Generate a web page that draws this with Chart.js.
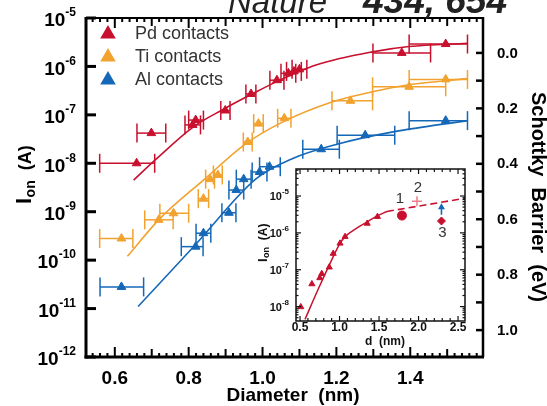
<!DOCTYPE html>
<html>
<head>
<meta charset="utf-8">
<script src="https://cdn.jsdelivr.net/npm/chart.js@4.4.1/dist/chart.umd.min.js"></script>
<style>
  html, body { margin: 0; padding: 0; background: #fff; }
  #wrap { position: relative; width: 547px; height: 406px; overflow: hidden; }
  #insetBox { position: absolute; left: 250px; top: 160px; width: 225px; height: 195px; }
</style>
</head>
<body>
<div id="wrap">
  <canvas id="mainChart" width="547" height="406"></canvas>
  <div id="insetBox"><canvas id="insetChart" width="225" height="195"></canvas></div>
</div>
<script>
const FONT = "'Liberation Sans', Arial, Helvetica, sans-serif";
Chart.defaults.font.family = FONT;
Chart.defaults.color = '#000';

const RED = '#c8102e', ORANGE = '#f2a22e', BLUE = '#1568b8', PINK = '#ee7f8c';

// ---- main panel: diameter (nm) vs on-current (A) ----
const pdD  = [0.659, 0.699, 0.811, 0.819, 0.899, 0.969, 1.039, 1.07, 1.085, 1.10, 1.377, 1.496];
const pdI  = [1.0e-8, 4.2e-8, 6.2e-8, 7.8e-8, 1.23e-7, 2.7e-7, 5.2e-7, 7.2e-7, 7.9e-7, 8.7e-7, 1.9e-6, 2.9e-6];
const pdLo = [0.559, 0.660, 0.790, 0.800, 0.887, 0.955, 1.020, 1.050, 1.065, 1.080, 1.299, 1.397];
const pdHi = [0.708, 0.738, 0.832, 0.840, 0.912, 0.982, 1.058, 1.090, 1.105, 1.120, 1.455, 1.555];

const tiD  = [0.618, 0.719, 0.759, 0.840, 0.858, 0.879, 0.960, 0.989, 1.059, 1.238, 1.397, 1.496];
const tiI  = [2.8e-10, 6.8e-10, 9.3e-10, 1.86e-9, 4.7e-9, 5.75e-9, 2.75e-8, 6.6e-8, 8.5e-8, 1.95e-7, 3.8e-7, 5.4e-7];
const tiLo = [0.559, 0.681, 0.722, 0.826, 0.846, 0.867, 0.948, 0.976, 1.041, 1.188, 1.298, 1.397];
const tiHi = [0.649, 0.758, 0.800, 0.854, 0.870, 0.891, 0.972, 1.002, 1.077, 1.298, 1.496, 1.555];

const alD  = [0.618, 0.819, 0.840, 0.909, 0.929, 0.949, 0.992, 1.019, 1.159, 1.278, 1.496];
const alI  = [2.8e-11, 1.9e-10, 3.6e-10, 9.5e-10, 2.8e-9, 4.7e-9, 6.6e-9, 8.5e-9, 1.95e-8, 3.8e-8, 7.6e-8];
const alLo = [0.560, 0.780, 0.820, 0.890, 0.909, 0.929, 0.972, 0.992, 1.109, 1.202, 1.397];
const alHi = [0.678, 0.839, 0.860, 0.928, 0.949, 0.969, 1.012, 1.048, 1.208, 1.358, 1.555];

// fitted curves
const pdFitD = [0.651, 0.711, 0.812, 0.893, 0.974, 1.037, 1.145, 1.298, 1.397, 1.555];
const pdFitI = [4.5e-9, 1.2e-8, 5.6e-8, 1.29e-7, 2.75e-7, 4.8e-7, 1.07e-6, 2.0e-6, 2.57e-6, 3.0e-6];
const tiFitD = [0.634, 0.722, 0.840, 0.956, 1.046, 1.190, 1.298, 1.397, 1.555];
const tiFitI = [1.2e-10, 7.2e-10, 4.5e-9, 2.57e-8, 6.6e-8, 1.86e-7, 3.0e-7, 4.2e-7, 5.6e-7];
const alFitD = [0.663, 0.822, 0.983, 1.082, 1.204, 1.357, 1.555];
const alFitI = [1.1e-11, 2.24e-10, 4.8e-9, 1.26e-8, 2.5e-8, 4.5e-8, 7.6e-8];

const legendLabels = ['Pd contacts', 'Ti contacts', 'Al contacts'];
const xTicks = [0.6, 0.8, 1.0, 1.2, 1.4];
const yDecades = [-5, -6, -7, -8, -9, -10, -11, -12];
const barrierTicks = [0.0, 0.2, 0.4, 0.6, 0.8, 1.0];

// ---- inset: d (nm) vs Ion (A) ----
const insetTriD = [0.51, 0.65, 0.75, 0.775, 0.87, 0.92, 1.006, 1.07, 1.35, 1.48];
const insetTriI = [9.8e-9, 4.1e-8, 6.0e-8, 7.8e-8, 1.17e-7, 2.75e-7, 5.2e-7, 7.9e-7, 1.8e-6, 2.75e-6];
const insetFitD = [0.563, 0.728, 0.901, 1.006, 1.07, 1.218, 1.352, 1.478, 1.6];
const insetFitI = [4.5e-9, 2.9e-8, 1.86e-7, 5.2e-7, 7.9e-7, 1.35e-6, 2.0e-6, 2.9e-6, 3.8e-6];
const insetDashD = [1.6, 2.59];
const insetDashI = [3.8e-6, 8.7e-6];
const dev1 = { x: 1.79, y: 2.95e-6 };   // circle "1"
const dev2 = { x: 1.98, y: 7.2e-6 };    // cross "2"
const dev3 = { x: 2.29, y: 2.1e-6 };    // diamond "3"
const arrowD = 2.29, arrowI = [3.1e-6, 6.0e-6];
const insetXTicks = [0.5, 1.0, 1.5, 2.0, 2.5];
const insetDecades = [-5, -6, -7, -8];

function pts(xs, ys) { return xs.map((x, i) => ({ x: x, y: ys[i] })); }
function errPts(xs, ys, lo, hi) { return xs.map((x, i) => ({ x: x, y: ys[i], xMin: lo[i], xMax: hi[i] })); }

function fitSet(xs, ys, color) {
  return { type: 'line', data: pts(xs, ys), borderColor: color, borderWidth: 1.6,
           pointRadius: 0, cubicInterpolationMode: 'monotone', fill: false };
}
function triSet(label, xs, ys, lo, hi, color) {
  return { type: 'scatter', label: label, data: errPts(xs, ys, lo, hi), errorBars: true,
           backgroundColor: color, borderColor: color, borderWidth: 1,
           pointStyle: 'triangle', pointRadius: 5 };
}

function seg(ctx, x1, y1, x2, y2) { ctx.beginPath(); ctx.moveTo(x1, y1); ctx.lineTo(x2, y2); ctx.stroke(); }

function drawPow(ctx, exp, xRight, y, big, small, dyBase, dyExp) {
  ctx.font = 'bold ' + small + 'px ' + FONT;
  const ew = ctx.measureText(exp).width;
  ctx.textBaseline = 'middle';
  ctx.font = 'bold ' + big + 'px ' + FONT;
  ctx.textAlign = 'right';
  ctx.fillText('10', xRight - ew, y + dyBase);
  ctx.font = 'bold ' + small + 'px ' + FONT;
  ctx.textAlign = 'left';
  ctx.fillText(exp, xRight - ew, y + dyExp);
}

// draws "I_on (A)" rotated, reading bottom to top
function drawIonTitle(ctx, x, yStart, bigI, sub, paren, base) {
  ctx.save();
  ctx.translate(x, yStart);
  ctx.rotate(-Math.PI / 2);
  ctx.textAlign = 'left';
  ctx.textBaseline = 'alphabetic';
  ctx.font = 'bold ' + bigI + 'px ' + FONT;
  ctx.fillText('I', 0, base);
  let u = ctx.measureText('I').width + 0.5;
  ctx.font = 'bold ' + sub + 'px ' + FONT;
  ctx.fillText('on', u, base + sub * 0.25);
  u += ctx.measureText('on').width;
  ctx.font = 'bold ' + paren + 'px ' + FONT;
  ctx.fillText('  (A)', u, base);
  ctx.restore();
}

const errorBarPlugin = {
  id: 'errorBars',
  beforeDatasetsDraw(chart) {
    const ctx = chart.ctx, xs = chart.scales.x, ys = chart.scales.y;
    const cap = 9.5;
    chart.data.datasets.forEach((ds) => {
      if (!ds.errorBars) return;
      ctx.save();
      ctx.strokeStyle = ds.borderColor;
      ctx.lineWidth = 1.5;
      ds.data.forEach((p) => {
        const x1 = xs.getPixelForValue(p.xMin), x2 = xs.getPixelForValue(p.xMax);
        const y = ys.getPixelForValue(p.y);
        seg(ctx, x1, y, x2, y);
        seg(ctx, x1, y - cap, x1, y + cap);
        seg(ctx, x2, y - cap, x2, y + cap);
      });
      ctx.restore();
    });
  }
};

const mainDecor = {
  id: 'mainDecor',
  afterDraw(chart) {
    const ctx = chart.ctx, a = chart.chartArea;
    const xs = chart.scales.x, ys = chart.scales.y, y2 = chart.scales.y2;
    ctx.save();
    ctx.strokeStyle = '#000';
    ctx.fillStyle = '#000';

    // frame
    ctx.lineWidth = 2;
    seg(ctx, a.left, a.top, a.right, a.top);
    ctx.lineWidth = 2.5;
    seg(ctx, a.right, a.top - 1, a.right, a.bottom);
    ctx.lineWidth = 3;
    seg(ctx, a.left, a.top - 1, a.left, a.bottom + 1.5);
    seg(ctx, a.left - 1.5, a.bottom, a.right + 1, a.bottom);

    // top / bottom ticks (inward)
    ctx.lineWidth = 2;
    for (let k = 27; k <= 79; k++) {
      const px = xs.getPixelForValue(k / 50);
      const len = k % 10 === 0 ? 10 : (k % 5 === 0 ? 8 : 4);
      seg(ctx, px, a.bottom, px, a.bottom - len);
      seg(ctx, px, a.top, px, a.top + len);
    }
    // left decade ticks
    ctx.lineWidth = 3;
    yDecades.forEach((e) => {
      const py = ys.getPixelForValue(Math.pow(10, e));
      seg(ctx, a.left, py, a.left + 10, py);
    });
    // right barrier ticks
    ctx.lineWidth = 2.5;
    for (let k = 0; k <= 10; k++) {
      const py = y2.getPixelForValue(k / 10);
      seg(ctx, a.right, py, a.right - 7, py);
    }

    // tick labels
    yDecades.forEach((e) => {
      drawPow(ctx, String(e), 76, ys.getPixelForValue(Math.pow(10, e)), 19, 12, 3, -5);
    });
    ctx.font = 'bold 19px ' + FONT;
    ctx.textAlign = 'center';
    ctx.textBaseline = 'middle';
    xTicks.forEach((v) => ctx.fillText(v.toFixed(1), xs.getPixelForValue(v), 378.5));
    ctx.font = 'bold 15px ' + FONT;
    ctx.textAlign = 'left';
    barrierTicks.forEach((v) => ctx.fillText(v.toFixed(1), 497, y2.getPixelForValue(v) + 0.5));

    // axis titles
    ctx.font = 'bold 19px ' + FONT;
    ctx.textAlign = 'center';
    ctx.textBaseline = 'alphabetic';
    ctx.fillText('Diameter  (nm)', 293, 401);
    drawIonTitle(ctx, 0, 204, 22, 14, 18, 31);
    ctx.save();
    ctx.translate(532, 197);
    ctx.rotate(Math.PI / 2);
    ctx.font = 'bold 20px ' + FONT;
    ctx.textAlign = 'center';
    ctx.fillText('Schottky  Barrier  (eV)', 0, 0);
    ctx.restore();

    // legend
    const colors = [RED, ORANGE, BLUE], ly = [33, 56, 79];
    ctx.font = '18px ' + FONT;
    ctx.textAlign = 'left';
    ctx.textBaseline = 'middle';
    legendLabels.forEach((t, i) => {
      ctx.fillStyle = colors[i];
      ctx.strokeStyle = colors[i];
      Chart.helpers.drawPoint(ctx, { pointStyle: 'triangle', radius: 6.5, borderWidth: 1, rotation: 0 }, 108, ly[i] + 1);
      ctx.fillStyle = '#333';
      ctx.fillText(t, 135, ly[i] + 1);
    });

    // journal reference at the top, partly cut off
    ctx.fillStyle = '#222';
    ctx.textBaseline = 'alphabetic';
    ctx.font = 'italic 33px ' + FONT;
    ctx.fillText('Nature', 228, 13);
    ctx.font = 'italic bold 37px ' + FONT;
    ctx.fillText('434, 654', 363, 13);
    ctx.restore();
  }
};

const hidden = { grid: { display: false, drawTicks: false }, border: { display: false }, ticks: { display: false } };

new Chart(document.getElementById('mainChart'), {
  type: 'scatter',
  data: {
    datasets: [
      fitSet(pdFitD, pdFitI, RED),
      fitSet(tiFitD, tiFitI, ORANGE),
      fitSet(alFitD, alFitI, BLUE),
      triSet('Pd contacts', pdD, pdI, pdLo, pdHi, RED),
      triSet('Ti contacts', tiD, tiI, tiLo, tiHi, ORANGE),
      triSet('Al contacts', alD, alI, alLo, alHi, BLUE)
    ]
  },
  options: {
    responsive: false,
    animation: false,
    devicePixelRatio: 1,
    layout: { padding: { top: 18, left: 0, right: 0, bottom: 0 } },
    plugins: { legend: { display: false }, tooltip: { enabled: false } },
    scales: {
      x: Object.assign({ type: 'linear', min: 0.522, max: 1.597, afterFit: (s) => { s.height = 49; } }, hidden),
      y: Object.assign({ type: 'logarithmic', position: 'left', min: 1e-12, max: 1e-5, afterFit: (s) => { s.width = 86; } }, hidden),
      y2: Object.assign({ type: 'linear', position: 'right', reverse: true, min: -0.126, max: 1.097, afterFit: (s) => { s.width = 64; } }, hidden)
    }
  },
  plugins: [errorBarPlugin, mainDecor]
});

// ---- inset ----
const insetDecor = {
  id: 'insetDecor',
  beforeDraw(chart) {
    const ctx = chart.ctx, a = chart.chartArea;
    ctx.save();
    ctx.fillStyle = '#fff';
    ctx.fillRect(a.left, a.top, a.right - a.left, a.bottom - a.top);
    ctx.restore();
  },
  afterDraw(chart) {
    const ctx = chart.ctx, a = chart.chartArea, xs = chart.scales.x, ys = chart.scales.y;
    ctx.save();
    ctx.strokeStyle = '#111';
    ctx.fillStyle = '#111';
    ctx.lineWidth = 1.5;
    ctx.strokeRect(a.left, a.top, a.right - a.left, a.bottom - a.top);

    ctx.lineWidth = 1.2;
    for (let k = 5; k <= 25; k++) {
      const px = xs.getPixelForValue(k / 10);
      const len = k % 5 === 0 ? 5 : 3;
      seg(ctx, px, a.bottom, px, a.bottom - len);
      seg(ctx, px, a.top, px, a.top + len);
    }
    for (let e = -9; e <= -5; e++) {
      for (let m = 1; m <= 9; m++) {
        const v = m * Math.pow(10, e);
        if (v < ys.min || v > ys.max) continue;
        const py = ys.getPixelForValue(v);
        const len = m === 1 ? 5 : 2.5;
        seg(ctx, a.left, py, a.left + len, py);
        seg(ctx, a.right, py, a.right - len, py);
      }
    }

    insetDecades.forEach((e) => {
      drawPow(ctx, String(e), 39, ys.getPixelForValue(Math.pow(10, e)), 11, 8, 1, -4);
    });
    ctx.font = 'bold 12px ' + FONT;
    ctx.textAlign = 'center';
    ctx.textBaseline = 'middle';
    insetXTicks.forEach((v) => ctx.fillText(v.toFixed(1), xs.getPixelForValue(v), 167.5));
    ctx.fillText('d  (nm)', 135, 182);
    drawIonTitle(ctx, 7, 102, 13, 9, 12, 10);

    // blue arrow on device 3
    const ax = xs.getPixelForValue(arrowD);
    const ay1 = ys.getPixelForValue(arrowI[0]), ay2 = ys.getPixelForValue(arrowI[1]);
    ctx.strokeStyle = BLUE;
    ctx.fillStyle = BLUE;
    ctx.lineWidth = 1.6;
    seg(ctx, ax, ay1, ax, ay2 + 3);
    ctx.beginPath();
    ctx.moveTo(ax, ay2 - 1);
    ctx.lineTo(ax - 3.5, ay2 + 5);
    ctx.lineTo(ax + 3.5, ay2 + 5);
    ctx.closePath();
    ctx.fill();

    // device numbers
    ctx.fillStyle = '#333';
    ctx.font = '15px ' + FONT;
    ctx.textAlign = 'center';
    ctx.textBaseline = 'middle';
    ctx.fillText('1', xs.getPixelForValue(dev1.x) - 2, ys.getPixelForValue(dev1.y) - 17);
    ctx.fillText('2', xs.getPixelForValue(dev2.x) + 1, ys.getPixelForValue(dev2.y) - 13);
    ctx.fillText('3', xs.getPixelForValue(dev3.x) + 1, ys.getPixelForValue(dev3.y) + 12);
    ctx.restore();
  }
};

new Chart(document.getElementById('insetChart'), {
  type: 'scatter',
  data: {
    datasets: [
      { type: 'line', data: pts(insetFitD, insetFitI), borderColor: RED, borderWidth: 1.5,
        pointRadius: 0, cubicInterpolationMode: 'monotone', fill: false },
      { type: 'line', data: pts(insetDashD, insetDashI), borderColor: RED, borderWidth: 1.6,
        borderDash: [7, 4], pointRadius: 0, fill: false },
      { data: pts(insetTriD, insetTriI), pointStyle: 'triangle', pointRadius: 3.5,
        backgroundColor: RED, borderColor: RED, borderWidth: 1 },
      { data: [dev1], pointStyle: 'circle', pointRadius: 4.5, backgroundColor: RED, borderColor: RED },
      { data: [dev2], pointStyle: 'cross', pointRadius: 5, borderColor: PINK, borderWidth: 1.5 },
      { data: [dev3], pointStyle: 'rectRot', pointRadius: 4, backgroundColor: RED, borderColor: RED }
    ]
  },
  options: {
    responsive: false,
    animation: false,
    devicePixelRatio: 1,
    layout: { padding: { top: 9, right: 10, left: 0, bottom: 0 } },
    plugins: { legend: { display: false }, tooltip: { enabled: false } },
    scales: {
      x: Object.assign({ type: 'linear', min: 0.449, max: 2.588, afterFit: (s) => { s.height = 34; } }, hidden),
      y: Object.assign({ type: 'logarithmic', min: 4.07e-9, max: 5.4e-5, afterFit: (s) => { s.width = 46; } }, hidden)
    }
  },
  plugins: [insetDecor]
});
</script>
</body>
</html>
